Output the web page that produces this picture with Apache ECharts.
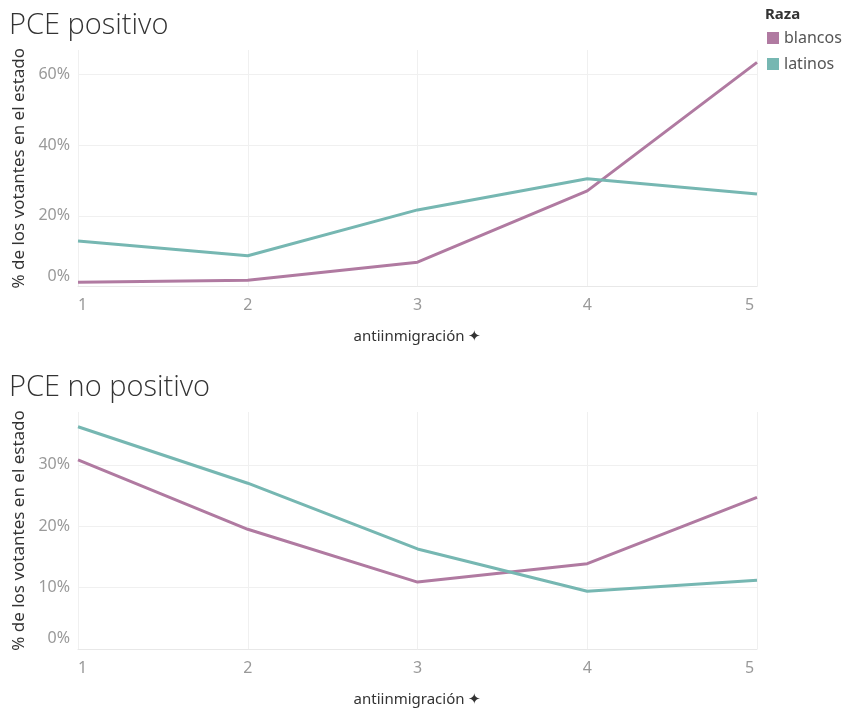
<!DOCTYPE html>
<html>
<head>
<meta charset="utf-8">
<script src="https://cdn.jsdelivr.net/npm/echarts@6/dist/echarts.min.js"></script>
<style>html,body{margin:0;padding:0;background:#fff;}#c{width:846px;height:710px;}</style>
</head>
<body>
<div id="c"></div>
<script>
const xValues = [1, 2, 3, 4, 5];
const posBlancos = [0.012, 0.018, 0.069, 0.271, 0.635];
const posLatinos = [0.129, 0.087, 0.217, 0.305, 0.262];
const noBlancos = [0.308, 0.195, 0.109, 0.139, 0.247];
const noLatinos = [0.362, 0.270, 0.163, 0.094, 0.112];
const seriesNames = ['blancos', 'latinos'];
const titles = ['PCE positivo', 'PCE no positivo'];
const xName = 'antiinmigración ✦';
const yName = '% de los votantes en el estado';

const colors = ['#b07aa1', '#76b7b2'];
const FONT = '"Noto Sans", "Open Sans", sans-serif';
const pairs = (arr) => xValues.map((x, i) => [x, arr[i]]);
const GRID = '#f0f0f0';

function xAxis(gi) {
  return {
    type: 'value', gridIndex: gi, min: 1, max: 5, interval: 1,
    name: xName, nameLocation: 'middle', nameGap: 43,
    nameTextStyle: { color: '#333', fontSize: 15, fontFamily: FONT },
    axisLine: { show: true, lineStyle: { color: '#e8e8e8', width: 1 } },
    axisTick: { show: false },
    axisLabel: {
      color: '#999', fontSize: 16, fontFamily: FONT, margin: 11,
      formatter: function (v) {
        if (v === 1) return '{a|1}';
        if (v === 5) return '{b|5}';
        return String(v);
      },
      rich: {
        a: { color: '#999', fontSize: 16, fontFamily: FONT, padding: [0, 0, 0, 9] },
        b: { color: '#999', fontSize: 16, fontFamily: FONT, padding: [0, 15, 0, 0] }
      }
    },
    splitLine: { show: true, lineStyle: { color: GRID, width: 1 } }
  };
}
function yAxis(gi, max, interval, lift) {
  return {
    type: 'value', gridIndex: gi, min: 0, max: max, interval: interval,
    name: yName, nameLocation: 'middle', nameGap: 50,
    nameTextStyle: { color: '#333', fontSize: 17, fontFamily: FONT },
    axisLine: { show: false }, axisTick: { show: false },
    axisLabel: {
      color: '#999', fontSize: 16, fontFamily: FONT, margin: 8, showMaxLabel: false,
      formatter: function (v) {
        const p = Math.round(v * 100);
        if (Math.abs(v * 100 - p) > 0.01) return '';
        if (p === 0) return '{z|0%}';
        return p + '%';
      },
      rich: { z: { color: '#999', fontSize: 16, fontFamily: FONT, padding: [0, 0, lift, 0] } }
    },
    splitLine: { show: true, lineStyle: { color: [GRID, GRID, GRID, GRID, '#ffffff'], width: 1 } }
  };
}
function line(name, gi, data, color) {
  return {
    type: 'line', name: name, xAxisIndex: gi, yAxisIndex: gi, data: data,
    showSymbol: false, symbol: 'none', lineStyle: { color: color, width: 3 },
    itemStyle: { color: color }, animation: false
  };
}

const TFONT = '"Open Sans", "Noto Sans", sans-serif';
const chart = echarts.init(document.getElementById('c'), null, { renderer: 'canvas' });
chart.setOption({
  backgroundColor: '#fff',
  animation: false,
  title: [
    { text: titles[0], left: 4, top: 6, textStyle: { color: '#333', fontSize: 29, fontWeight: 300, fontFamily: TFONT } },
    { text: titles[1], left: 4, top: 368, textStyle: { color: '#333', fontSize: 29, fontWeight: 300, fontFamily: TFONT } },
    { text: 'Raza', left: 760, top: 2, textStyle: { color: '#333', fontSize: 15, fontWeight: 'bold', fontFamily: FONT } }
  ],
  legend: {
    data: seriesNames, orient: 'vertical', left: 762, top: 25,
    icon: 'rect', itemWidth: 12, itemHeight: 12, itemGap: 10,
    textStyle: { color: '#555', fontSize: 16, fontFamily: FONT }
  },
  grid: [
    { left: 78, width: 679, top: 50, height: 236.5 },
    { left: 78, width: 679, top: 412, height: 237 }
  ],
  xAxis: [xAxis(0), xAxis(1)],
  yAxis: [yAxis(0, 0.67, 0.2, 20), yAxis(1, 0.386, 0.1, 22)],
  series: [
    line(seriesNames[0], 0, pairs(posBlancos), colors[0]),
    line(seriesNames[1], 0, pairs(posLatinos), colors[1]),
    line(seriesNames[0], 1, pairs(noBlancos), colors[0]),
    line(seriesNames[1], 1, pairs(noLatinos), colors[1])
  ]
});
</script>
</body>
</html>
